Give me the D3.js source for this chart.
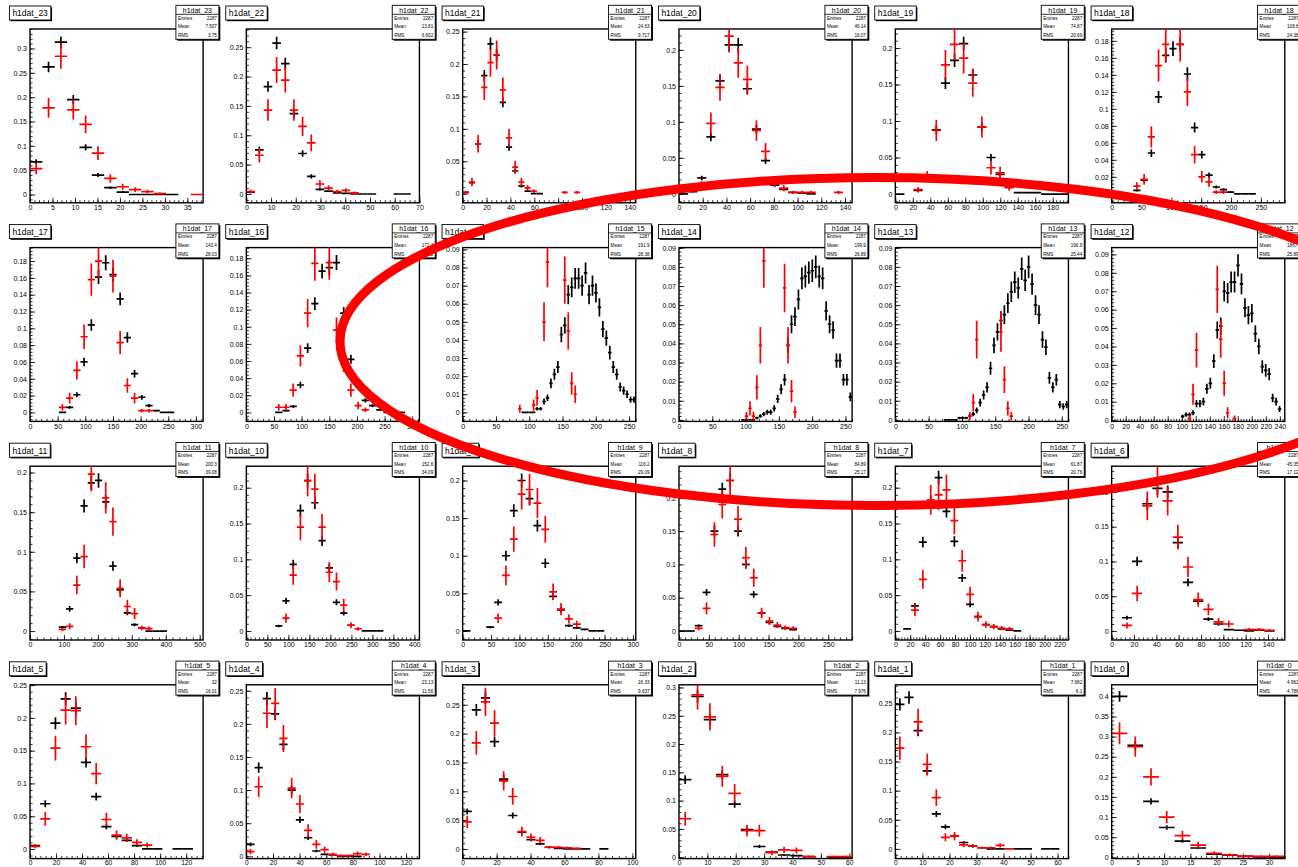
<!DOCTYPE html>
<html>
<head>
<meta charset="utf-8">
<script src="https://cdn.jsdelivr.net/npm/d3@7"></script>
<style>
  html, body { margin: 0; padding: 0; background: #fff; }
  svg { display: block; font-family: "Liberation Sans", Arial, Helvetica, sans-serif; }
</style>
</head>
<body>
<svg id="chart" width="1298" height="867"></svg>
<script>
const _ = null;

// Histogram names, laid out row by row (6 per row)
const names = ["h1dat_23","h1dat_22","h1dat_21","h1dat_20","h1dat_19","h1dat_18",
               "h1dat_17","h1dat_16","h1dat_15","h1dat_14","h1dat_13","h1dat_12",
               "h1dat_11","h1dat_10","h1dat_9","h1dat_8","h1dat_7","h1dat_6",
               "h1dat_5","h1dat_4","h1dat_3","h1dat_2","h1dat_1","h1dat_0"];

// Axis ranges and binning per histogram
const xMax  = [38.5, 70, 145, 146, 198, 290,  313, 313, 260, 260, 260, 247,  510, 412, 305, 290, 232, 155,  133, 130, 102, 61, 64, 33];
const nBins = [14, 20, 28, 19, 19, 24,  24, 24, 50, 50, 50, 50,  24, 24, 22, 22, 22, 17,  17, 21, 19, 14, 19, 11];
const yLow  = [-0.017, -0.015, -0.014, -0.0125, -0.012, -0.0106,
               -0.0107, -0.0105, -0.005, -0.0008, -0.0008, -0.0007,
               -0.0113, -0.0126, -0.012, -0.0135, -0.0126, -0.013,
               -0.0147, -0.0035, -0.0167, -0.0024, -0.0166, -0.0033];
const yHigh = [0.340, 0.281, 0.254, 0.229, 0.226, 0.194,
               0.196, 0.1925, 0.091, 0.0901, 0.0901, 0.0937,
               0.208, 0.230, 0.219, 0.2475, 0.230, 0.237,
               0.2505, 0.259, 0.2846, 0.3047, 0.2817, 0.4288];
const xStep = [5, 10, 20, 20, 20, 50,  50, 50, 50, 50, 50, 20,  100, 50, 50, 50, 20, 20,  20, 20, 20, 10, 10, 5];
const yStep = [0.05, 0.05, 0.05, 0.05, 0.05, 0.02,  0.02, 0.02, 0.01, 0.01, 0.01, 0.01,
               0.05, 0.05, 0.05, 0.05, 0.05, 0.05,  0.05, 0.05, 0.05, 0.05, 0.05, 0.05];

// Statistics box contents
const entriesText = "2287";
const meanText = ["7.507","13.81","24.63","46.14","74.87","108.8","143.4","172.4","191.9","199.9","196.9","186.7",
                  "200.3","152.6","116.2","84.89","61.87","45.35","32","23.13","16.33","11.13","7.682","4.961"];
const rmsText  = ["3.75","6.602","9.717","16.07","20.69","24.38","28.03","30.62","28.38","26.89","25.44","25.89",
                  "39.08","34.09","29.09","25.17","20.76","17.12","16.01","11.56","9.637","7.976","6.1","4.786"];

// Effective entries used for the statistical error bars
const blackEntries = 2287;
const redEntries = 430;

// Normalised bin contents (black = first sample, red = second sample)
const h23Black = [0.067,0.262,0.313,0.195,0.097,0.040,0.014,0.005,0,0,0,0,_,_];
const h23Red   = [0.053,0.178,0.284,0.174,0.144,0.085,0.033,0.016,0.010,0.006,0.002,_,_,0];
const h22Black = [0.003,0.075,0.183,0.257,0.222,0.137,0.069,0.030,0.008,0.005,0.002,0.001,0,0,0,_,_,0,0];
const h22Red   = [0.004,0.066,0.143,0.211,0.194,0.143,0.115,0.087,0.017,0.010,0.004,0.006,0.002];
const h21Black = [0.002,0.017,0.077,0.182,0.231,0.214,0.141,0.072,0.035,0.012,0.004,0,0];
const h21Red   = [0.002,0.018,0.077,0.164,0.202,0.214,0.160,0.086,0.041,0.018,0.009,0.004,_,_,_,_,0.002,_,0.002];
const h20Black = [0,0.003,0.022,0.079,0.157,0.207,0.207,0.146,0.090,0.046,0.012,0.006,0.002,0.001,0];
const h20Red   = [_,_,0.012,0.098,0.148,0.219,0.182,0.159,0.088,0.059,0.015,0.008,0.002,0.002,0.002,_,_,0.002];
const h19Black = [0,_,0.005,0.020,0.088,0.152,0.183,0.206,0.163,0.092,0.050,0.027,0.009,0.002,0.002,0.002,0,0,0];
const h19Red   = [_,_,0.006,0.024,0.087,0.177,0.205,0.186,0.152,0.092,0.036,0.029,0.009];
const h18Black = [_,_,_,0.004,0.016,0.048,0.114,0.163,0.171,0.176,0.141,0.078,0.046,0.022,0.008,0.005,0.002,0,0,0];
const h18Red   = [_,_,_,0.009,0.017,0.067,0.151,0.176,0.200,0.176,0.120,0.046,0.020,0.014,0.002,0.002];
const h17Black = [_,_,_,_,0,0.006,0.021,0.060,0.104,0.161,0.178,0.164,0.135,0.089,0.046,0.018,0.008,0.002,0,0];
const h17Red   = [_,_,_,_,0.006,0.017,0.050,0.090,0.158,0.180,0.205,0.162,0.083,0.032,0.017,0.002,0.002];
const h16Black = [_,_,_,_,0,0.002,0.007,0.032,0.075,0.127,0.165,0.169,0.175,0.116,0.062,0.036,0.014,0.008,0.003,0,0,0];
const h16Red   = [_,_,_,_,0.006,0.006,0.026,0.066,0.116,0.174,0.210,0.175,0.096,0.059,0.026,0.008,0.003];
const h15Black = [_,_,_,_,_,_,_,_,_,_,_,_,_,_,_,_,_,
                  0,0,0,0,0.002,0.002,0.006,0.008,0.016,0.021,0.025,0.043,0.048,0.065,0.069,0.074,0.074,
                  0.070,0.077,0.065,0.070,0.066,0.058,0.046,0.041,0.033,0.025,0.021,0.014,0.012,0.010,0.007,0.007];
const h15Red   = [_,_,_,_,_,_,_,_,_,_,_,_,_,_,_,_,
                  0.002,_,_,_,0.004,0.008,_,0.050,0.083,_,_,_,_,0.073,0.045,0.016,0.010];
const h14Black = [_,_,_,_,_,_,_,_,_,_,_,_,_,_,_,_,_,_,
                  0,0,0,0,0.001,0.002,0.003,0.004,0.004,0.006,0.011,0.016,0.021,0.039,0.050,0.054,0.063,
                  0.074,0.075,0.077,0.078,0.080,0.075,0.074,0.057,0.050,0.047,0.031,0.031,0.021,0.021,0.012];
const h14Red   = [_,_,_,_,_,_,_,_,_,_,_,_,_,_,_,_,_,_,_,
                  0.002,0.006,0.002,0.017,0.039,0.083,_,_,_,_,_,0.069,0.039,0.015,0.004];
const h13Black = [_,_,_,_,_,_,_,_,_,_,_,_,_,_,
                  0,0,0,0,0.001,0.001,0.001,0.002,0.003,0.005,0.009,0.013,0.017,0.027,0.039,0.046,0.052,
                  0.055,0.061,0.067,0.072,0.069,0.079,0.073,0.080,0.071,0.060,0.055,0.042,0.038,0.022,0.017,
                  0.021,0.008,0.007,0.008];
const h13Red   = [_,_,_,_,_,_,_,_,_,_,_,_,_,_,_,_,_,_,_,_,_,
                  0.002,0.009,0.042,_,_,_,_,_,_,0.046,0.021,0.006,0.002];
const h12Black = [_,_,_,_,_,_,_,_,_,_,_,_,_,_,_,_,_,_,_,_,
                  0.002,0.003,0.003,0.004,0.009,0.009,0.010,0.017,0.020,0.032,0.049,0.051,0.070,0.069,0.075,
                  0.075,0.084,0.074,0.061,0.057,0.058,0.047,0.040,0.029,0.027,0.025,0.012,0.010,0.006];
const h12Red   = [_,_,_,_,_,_,_,_,_,_,_,_,_,_,_,_,_,_,_,_,_,_,
                  0.001,0.014,0.038,_,_,_,_,_,0.071,0.044,0.020,0.004,_,0.001];
const h11Black = [_,_,_,_,0.005,0.028,0.092,0.158,0.187,0.190,0.163,0.082,0.052,0.023,0.008,0.004,0,0,0];
const h11Red   = [_,_,_,_,0.002,0.006,0.058,0.094,0.198,0.215,0.168,0.138,0.054,0.031,0.022,0.004,0.003];
const h10Black = [_,_,_,_,0.007,0.042,0.093,0.168,0.210,0.179,0.126,0.088,0.040,0.025,0.008,_,0,0,0];
const h10Red   = [_,_,_,_,_,0.018,0.078,0.145,0.210,0.198,0.145,0.082,0.069,0.036,0.008,0.003];
const h9Black  = [0,_,_,0.005,0.038,0.100,0.160,0.200,0.176,0.140,0.090,0.046,0.028,0.007,0.004,0.002,0,0];
const h9Red    = [_,_,_,_,0.017,0.074,0.122,0.182,0.188,0.170,0.135,0.052,0.029,0.016,0.009];
const h8Black  = [0,0,0.008,0.058,0.150,0.213,0.226,0.150,0.100,0.055,0.027,0.013,0.007,0.004,0.002];
const h8Red    = [_,_,0.004,0.034,0.145,0.190,0.226,0.168,0.110,0.080,0.027,0.015,0.009,0.005,0.004];
const h7Black  = [_,0.003,0.035,0.124,0.180,0.214,0.167,0.125,0.074,0.037,0.020,0.009,0.006,0.003,0.001,0];
const h7Red    = [_,_,0.029,0.072,0.183,0.190,0.197,0.154,0.098,0.051,0.020,0.009,0.006,0.004,0.003];
const h6Black  = [_,0.019,0.100,0.183,0.205,0.200,0.127,0.070,0.043,0.017,0.010,0.002,0.001,0,0.001,0];
const h6Red    = [_,0.008,0.054,0.180,0.214,0.187,0.135,0.092,0.045,0.031,0.013,0.010,_,0.002,0.002,0.001];
const h5Black  = [0.005,0.069,0.192,0.229,0.215,0.132,0.080,0.034,0.019,0.013,0.005,0,0,_,0,0];
const h5Red    = [0.004,0.046,0.154,0.212,0.211,0.156,0.115,0.045,0.021,0.017,0.010,0.006];
const h4Black  = [0.018,0.134,0.238,0.215,0.169,0.100,0.055,0.028,0.008,0.003,0.002,0,0,0];
const h4Red    = [0.007,0.105,0.216,0.231,0.178,0.103,0.079,0.039,0.018,0.010,0.003,0.001,0.001,0.004,0.003];
const h3Black  = [0.065,0.241,0.262,0.186,0.121,0.058,0.029,0.016,0.009,0.003,0.001,0,0,0,_,0];
const h3Red    = [0.047,0.184,0.255,0.218,0.118,0.091,0.030,0.020,0.015,0.003,0.003,0.002,0.001];
const h2Black  = [0.137,0.284,0.243,0.146,0.094,0.049,0.019,0.009,0.004,0.003,0.001,_,0,0];
const h2Red    = [0.068,0.287,0.248,0.143,0.113,0.047,0.047,0.008,0.013,0.012,0.001,_,0.001,0.001];
const h1Black  = [0.248,0.260,0.203,0.134,0.060,0.038,0.022,0.011,0.005,0.002,0,0,_,0,0,_,0,0];
const h1Red    = [0.173,0.300,0.218,0.145,0.088,0.020,0.022,0.007,0.005,0.002,0.002,0.006,0];
const h0Black  = [0.400,0.278,0.139,0.074,0.040,0.023,0.008,0.005,0.002,0.001,0];
const h0Red    = [0.308,0.275,0.200,0.100,0.054,0.030,0.010,0.006,0.003,0.002,0.002];

const blackSeries = [h23Black,h22Black,h21Black,h20Black,h19Black,h18Black,
                     h17Black,h16Black,h15Black,h14Black,h13Black,h12Black,
                     h11Black,h10Black,h9Black,h8Black,h7Black,h6Black,
                     h5Black,h4Black,h3Black,h2Black,h1Black,h0Black];
const redSeries   = [h23Red,h22Red,h21Red,h20Red,h19Red,h18Red,
                     h17Red,h16Red,h15Red,h14Red,h13Red,h12Red,
                     h11Red,h10Red,h9Red,h8Red,h7Red,h6Red,
                     h5Red,h4Red,h3Red,h2Red,h1Red,h0Red];

// ---- layout ----
const svg = d3.select("#chart");
const padW = 1298 / 6, padH = 218.6, originX = 8.4, originY = 4.5;
const fmtY = v => String(+v.toFixed(4));
const fmtX = v => String(+v.toFixed(3));

function ticksBetween(lo, hi, step) {
  const out = [];
  const k0 = Math.ceil(lo / step - 1e-6), k1 = Math.floor(hi / step + 1e-6);
  for (let k = k0; k <= k1; k++) out.push(+(k * step).toFixed(6));
  return out;
}

names.forEach((name, i) => {
  const col = i % 6, row = Math.floor(i / 6);
  const px = originX + col * padW, py = originY + row * padH;
  const fl = px + 21.6, fr = px + 194.7, ft = py + 24.5, fb = py + 198.3;
  const lastRow = row === 3;

  const x = d3.scaleLinear().domain([0, xMax[i]]).range([fl, fr]);
  const y = d3.scaleLinear().domain([yLow[i], yHigh[i]]).range([fb, ft]);
  const g = svg.append("g").attr("class", "pad");

  // frame
  g.append("rect").attr("x", fl).attr("y", ft).attr("width", fr - fl).attr("height", fb - ft)
    .attr("fill", "none").attr("stroke", "#000").attr("stroke-width", 1.4);

  // axes: major ticks with labels, minor ticks without
  const styleAxis = (sel, fs) => {
    sel.select(".domain").remove();
    sel.selectAll("line").attr("stroke", "#000").attr("stroke-width", 0.8);
    sel.selectAll("text").attr("font-size", fs).attr("font-family", "Liberation Sans, Arial, sans-serif")
      .attr("fill", "#000");
  };
  const xMajor = ticksBetween(0, xMax[i], xStep[i]);
  const xMinor = ticksBetween(0, xMax[i], xStep[i] / 5);
  const yMajor = ticksBetween(yLow[i], yHigh[i], yStep[i]);
  const yMinor = ticksBetween(yLow[i], yHigh[i], yStep[i] / 5);

  g.append("g").attr("transform", `translate(0,${fb})`)
    .call(d3.axisBottom(x).tickValues(xMinor).tickSize(-2.6).tickFormat(""))
    .call(styleAxis, 7);
  g.append("g").attr("transform", `translate(0,${fb})`)
    .call(d3.axisBottom(x).tickValues(xMajor).tickSize(-5.2).tickPadding(lastRow ? 1.4 : 2.2).tickFormat(fmtX))
    .call(styleAxis, lastRow ? 6.6 : 7);
  g.append("g").attr("transform", `translate(${fl},0)`)
    .call(d3.axisLeft(y).tickValues(yMinor).tickSize(-2.6).tickFormat(""))
    .call(styleAxis, 7);
  g.append("g").attr("transform", `translate(${fl},0)`)
    .call(d3.axisLeft(y).tickValues(yMajor).tickSize(-5.2).tickPadding(3).tickFormat(fmtY))
    .call(styleAxis, 7);

  // data crosses, clipped to the frame
  const clipId = "clip" + i;
  g.append("clipPath").attr("id", clipId).append("rect")
    .attr("x", fl).attr("y", ft).attr("width", fr - fl).attr("height", fb - ft);
  const plot = g.append("g").attr("clip-path", `url(#${clipId})`);
  const bw = xMax[i] / nBins[i];

  const drawSeries = (vals, entries, color) => {
    const pts = [];
    for (let b = 0; b < nBins[i]; b++) {
      const v = vals[b];
      if (v === null || v === undefined) continue;
      if (v > yHigh[i]) continue;
      pts.push({ b, v, e: Math.sqrt(v / entries) });
    }
    const s = plot.append("g").attr("stroke", color).attr("stroke-width", 1.7).attr("fill", "none");
    s.selectAll("line.h").data(pts).join("line").attr("class", "h")
      .attr("x1", d => x(d.b * bw)).attr("x2", d => x((d.b + 1) * bw))
      .attr("y1", d => y(d.v)).attr("y2", d => y(d.v));
    s.selectAll("line.v").data(pts.filter(d => d.e > 0)).join("line").attr("class", "v")
      .attr("x1", d => x((d.b + 0.5) * bw)).attr("x2", d => x((d.b + 0.5) * bw))
      .attr("y1", d => y(d.v - d.e)).attr("y2", d => y(d.v + d.e));
  };
  drawSeries(blackSeries[i], blackEntries, "#000");
  drawSeries(redSeries[i], redEntries, "#ff0000");

  // title box with shadow
  const tg = g.append("g");
  const tShadow = tg.append("rect").attr("fill", "#000");
  const tBox = tg.append("rect").attr("fill", "#fff").attr("stroke", "#000").attr("stroke-width", 0.9);
  const tText = tg.append("text").attr("x", px + 4).attr("y", py + 11.8)
    .attr("font-size", 8.5).attr("fill", "#000").text(name);
  const tw = tText.node().getComputedTextLength() + 6;
  tShadow.attr("x", px + 2.2).attr("y", py + 2.7).attr("width", tw).attr("height", 14);
  tBox.attr("x", px + 1).attr("y", py + 1.5).attr("width", tw).attr("height", 14);

  // statistics box with shadow
  const sx = px + 167.5, sy = py + 0.8, sw = 43, sh = 34;
  const sg = g.append("g");
  sg.append("rect").attr("x", sx + 1.4).attr("y", sy + 1.4).attr("width", sw).attr("height", sh).attr("fill", "#000");
  sg.append("rect").attr("x", sx).attr("y", sy).attr("width", sw).attr("height", sh)
    .attr("fill", "#fff").attr("stroke", "#000").attr("stroke-width", 0.9);
  sg.append("text").attr("x", sx + sw / 2).attr("y", sy + 7.2).attr("text-anchor", "middle")
    .attr("font-size", 7).attr("fill", "#000").text(name);
  sg.append("line").attr("x1", sx).attr("x2", sx + sw).attr("y1", sy + 9).attr("y2", sy + 9)
    .attr("stroke", "#000").attr("stroke-width", 0.8);
  const rows = [["Entries", entriesText], ["Mean", meanText[i]], ["RMS", rmsText[i]]];
  rows.forEach((r, k) => {
    const yy = sy + 14.5 + k * 8.6;
    sg.append("text").attr("x", sx + 2).attr("y", yy).attr("font-size", 4.6).attr("fill", "#000").text(r[0]);
    sg.append("text").attr("x", sx + sw - 2).attr("y", yy).attr("text-anchor", "end")
      .attr("font-size", 4.6).attr("fill", "#000").text(r[1]);
  });
});

// red ellipse annotation drawn over the grid
svg.append("ellipse")
  .attr("cx", 876).attr("cy", 341.5).attr("rx", 536).attr("ry", 164)
  .attr("fill", "none").attr("stroke", "#ff0000").attr("stroke-width", 9);
</script>
</body>
</html>
